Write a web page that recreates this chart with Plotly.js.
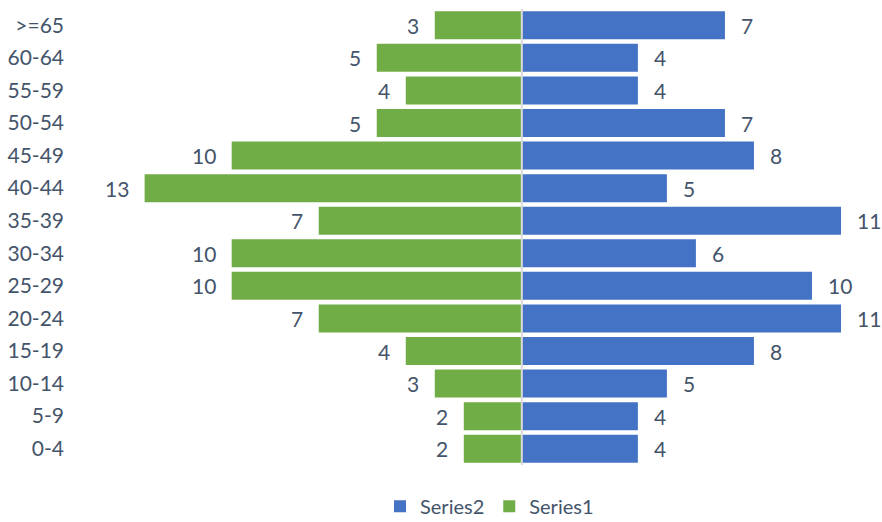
<!DOCTYPE html>
<html>
<head>
<meta charset="utf-8">
<script src="https://cdn.plot.ly/plotly-3.0.1.min.js"></script>
<style>html,body{margin:0;padding:0;background:#fff}#chart{width:882px;height:522px}</style>
</head>
<body>
<div id="chart"></div>
<script>
const categories = ["0-4","5-9","10-14","15-19","20-24","25-29","30-34","35-39","40-44","45-49","50-54","55-59","60-64",">=65"];
const series1 = [2,2,3,4,7,10,10,7,13,10,5,4,5,3];
const series2 = [4,4,5,8,11,10,6,11,5,8,7,4,4,7];

const textColor = "#44546a";
const font = "Lato, 'Open Sans', sans-serif";

const traces = [
  {
    type: "bar", orientation: "h", name: "Series1",
    y: categories, x: series1.map(v => -v),
    marker: {color: "#70ad47"}, hoverinfo: "skip"
  },
  {
    type: "bar", orientation: "h", name: "Series2",
    y: categories, x: series2,
    marker: {color: "#4472c4"}, hoverinfo: "skip"
  }
];

const annotations = [];
categories.forEach((c, i) => {
  annotations.push({x: -series1[i], y: c, text: String(series1[i]), showarrow: false,
    xanchor: "right", xshift: -14, font: {family: font, size: 21, color: textColor}});
  annotations.push({x: series2[i], y: c, text: String(series2[i]), showarrow: false,
    xanchor: "left", xshift: 14, font: {family: font, size: 21, color: textColor}});
});

const layout = {
  width: 882, height: 522,
  margin: {l: 75, r: 12, t: 9, b: 57, autoexpand: false},
  paper_bgcolor: "#fff", plot_bgcolor: "#fff",
  barmode: "relative", bargap: 0.14,
  font: {family: font, size: 21, color: textColor},
  xaxis: {range: [-15.4, 12.0], showticklabels: false, showgrid: false, zeroline: false, fixedrange: true},
  yaxis: {type: "category", range: [-0.5, 13.5], showgrid: false, zeroline: false, ticks: "",
    ticklabelstandoff: 10, tickfont: {family: font, size: 21, color: textColor}},
  showlegend: true,
  legend: {orientation: "h", xref: "container", x: 0.555, xanchor: "center",
    yref: "container", y: 0.03, yanchor: "middle",
    traceorder: "reversed", font: {family: font, size: 20, color: textColor}},
  annotations: annotations,
  shapes: [{type: "line", xref: "x", yref: "paper", x0: 0, x1: 0, y0: 0, y1: 1,
    line: {color: "#d9d9d9", width: 2}, layer: "above"}]
};

Plotly.newPlot("chart", traces, layout, {displayModeBar: false, staticPlot: true});
</script>
</body>
</html>
